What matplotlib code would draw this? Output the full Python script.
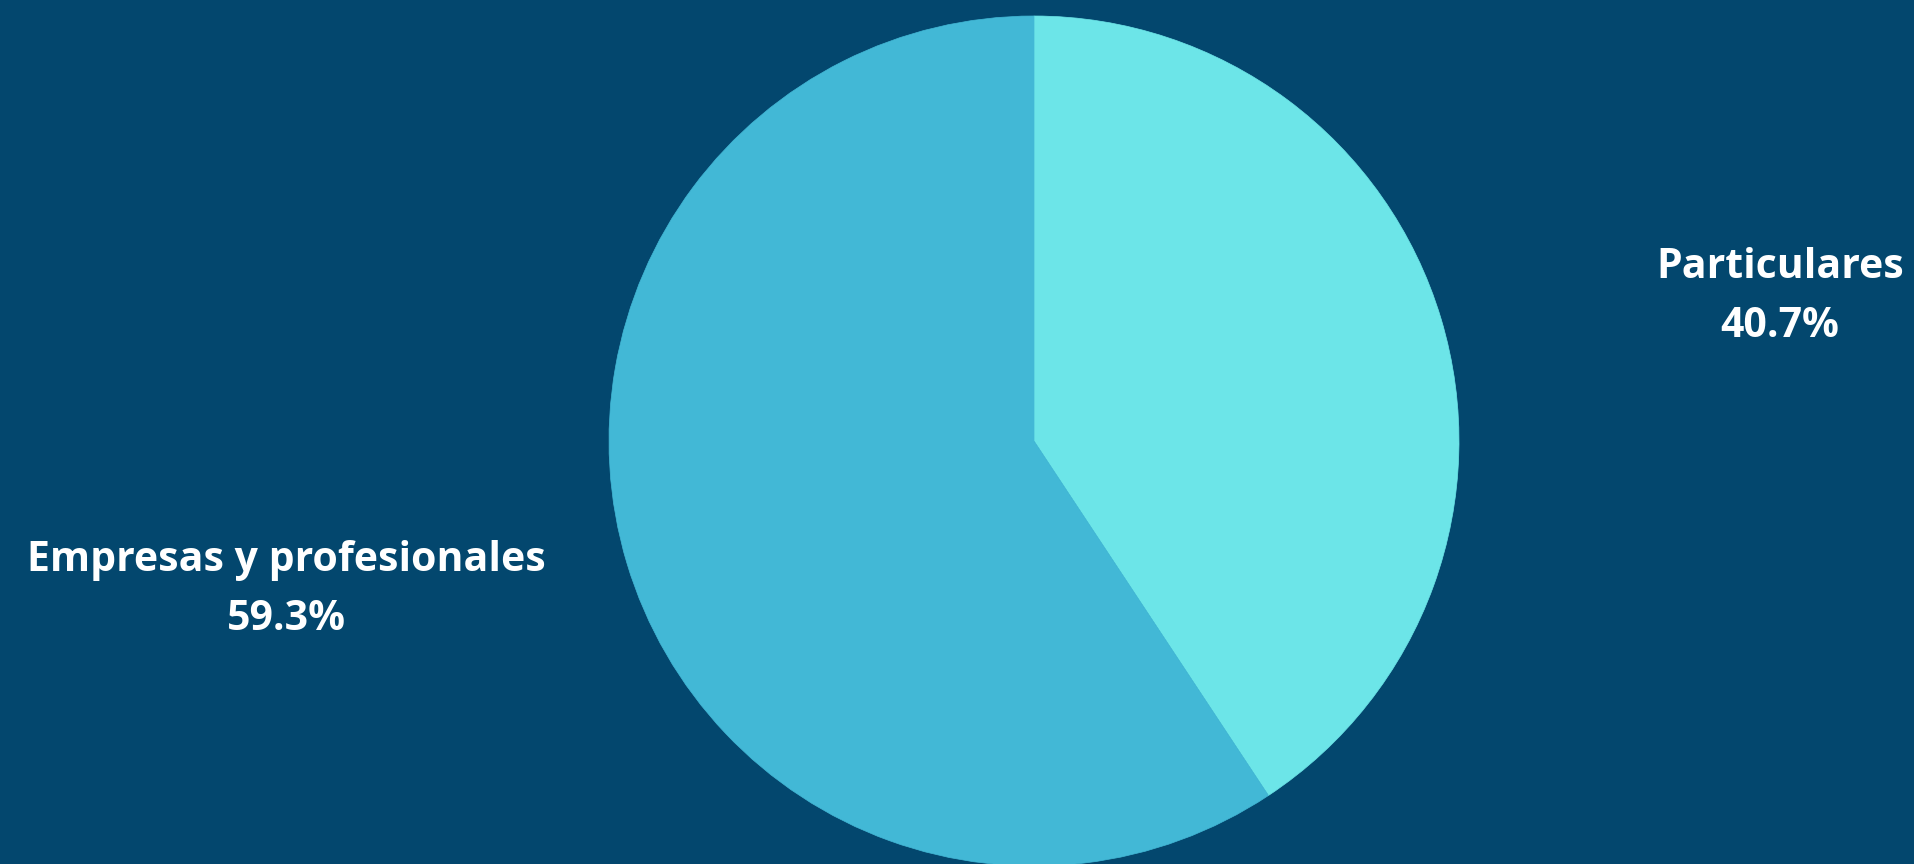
import matplotlib
matplotlib.use("Agg")
import matplotlib.pyplot as plt

# share of clients by segment (%)
segments = ["Particulares", "Empresas y profesionales"]
shares = [40.7, 59.3]
colors = ["#6ce5e8", "#42b8d6"]

W, H = 1914, 864
fig = plt.figure(figsize=(W / 100, H / 100), dpi=100)
fig.patch.set_facecolor("#03476e")
ax = fig.add_axes([0, 0, 1, 1])
ax.set_facecolor("#03476e")

cx, cy, r = 1034, H - 441, 425
ax.pie(shares, colors=colors, startangle=90, counterclock=False,
       center=(cx, cy), radius=r, frame=True,
       wedgeprops=dict(linewidth=0.5, antialiased=True))
for w, c in zip(ax.patches, colors):
    w.set_edgecolor(c)
ax.set_xlim(0, W)
ax.set_ylim(0, H)
ax.set_aspect("equal")
ax.axis("off")

# label positions (pixel offsets from centre)
label_pos = [(746, 144), (-748, -149)]
for name, val, (dx, dy) in zip(segments, shares, label_pos):
    ax.text(cx + dx, cy + dy, f"{name}\n{val:.1f}%", ha="center", va="center",
            color="white", fontsize=29.5, fontweight="bold", family="Open Sans",
            linespacing=1.6)

fig.savefig("out.png", dpi=100, facecolor=fig.get_facecolor())
